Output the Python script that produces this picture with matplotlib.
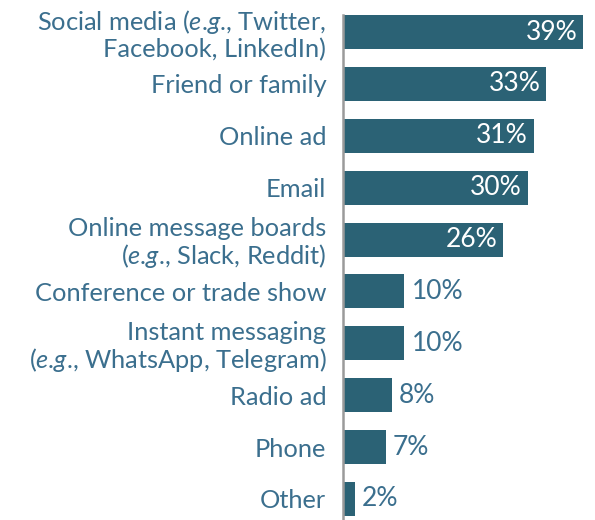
import matplotlib
matplotlib.use("Agg")
import matplotlib.pyplot as plt

EG = "($\\mathit{e}$.$\\mathit{g}$.,"
categories = [
    "Social media " + EG + " Twitter,\nFacebook, LinkedIn)",
    "Friend or family",
    "Online ad",
    "Email",
    "Online message boards\n" + EG + " Slack, Reddit)",
    "Conference or trade show",
    "Instant messaging\n" + EG + " WhatsApp, Telegram)",
    "Radio ad",
    "Phone",
    "Other",
]
values = [39, 33, 31, 30, 26, 10, 10, 8, 7, 2]
value_labels = ["39%", "33%", "31%", "30%", "26%", "10%", "10%", "8%", "7%", "2%"]

BAR = "#2b6275"
TXT = "#3b6f8e"

plt.rcParams["font.family"] = ["Lato", "DejaVu Sans"]
plt.rcParams["mathtext.fontset"] = "custom"
plt.rcParams["mathtext.rm"] = "Lato"
plt.rcParams["mathtext.it"] = "Lato:italic"

W, H = 595, 520
fig = plt.figure(figsize=(W / 100, H / 100), dpi=100)
x0, x1 = 343, 595
y_top, y_bot = 15, 520
ax = fig.add_axes([x0 / W, 1 - y_bot / H, (x1 - x0) / W, (y_bot - y_top) / H])

pos = list(range(len(values)))
ax.barh(pos, values, height=0.655, color=BAR, edgecolor="none")
ax.set_xlim(0, (x1 - x0) / 6.15)
ax.set_ylim(9.405, -0.328)
ax.set_yticks(pos)
ax.set_yticklabels(categories, fontsize=18.3, color=TXT, linespacing=1.08)
ax.tick_params(axis="y", length=0, pad=12)
ax.set_xticks([])
for s in ["top", "right", "bottom"]:
    ax.spines[s].set_visible(False)
ax.spines["left"].set_color("#9a9a9a")
ax.spines["left"].set_linewidth(1.8)

for i, (v, lab) in enumerate(zip(values, value_labels)):
    if v >= 20:
        ax.annotate(lab, (v, i), xytext=(-4, 0), textcoords="offset points",
                    ha="right", va="center", color="white", fontsize=19)
    else:
        ax.annotate(lab, (v, i), xytext=(5, 0), textcoords="offset points",
                    ha="left", va="center", color=TXT, fontsize=19)

fig.savefig("out.png", dpi=100)
